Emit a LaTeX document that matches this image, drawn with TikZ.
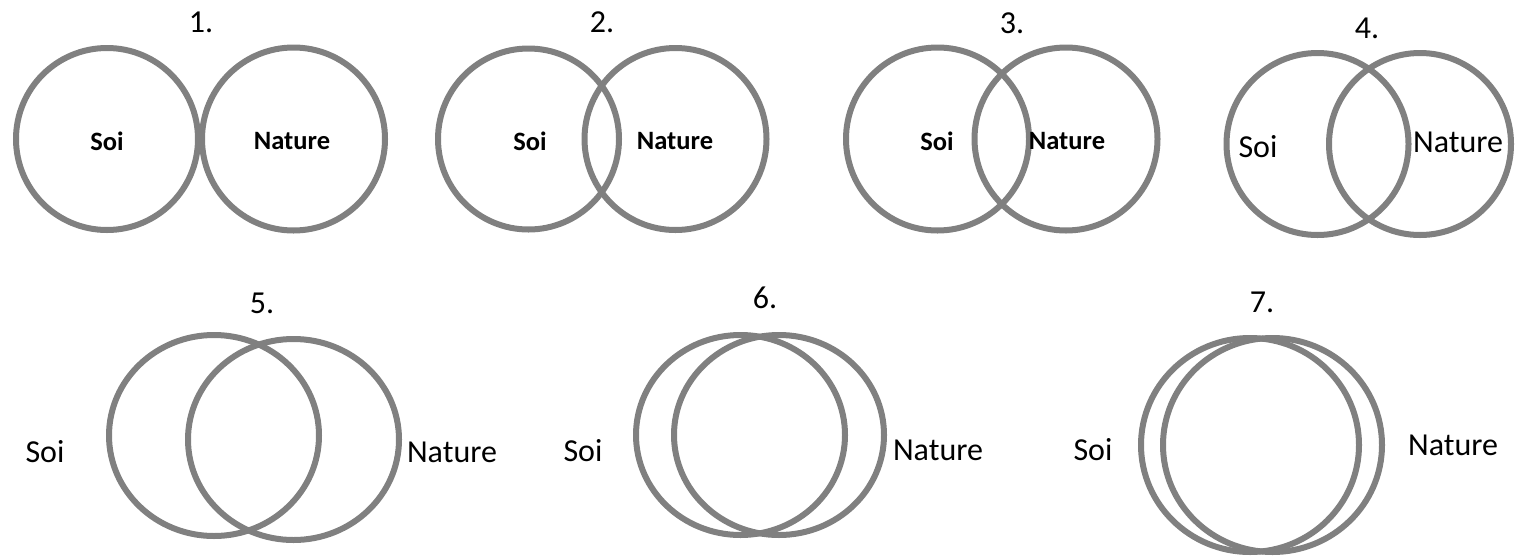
\documentclass[tikz,border=0pt]{standalone}
\usepackage{fontspec}
\setmainfont{Carlito}
\begin{document}
\begin{tikzpicture}[x=1pt,y=-1pt,
  ring/.style={draw=ringgray,line width=6pt},
  boldlab/.style={inner sep=0pt,font=\fontsize{26.5}{30}\selectfont\bfseries},
  reglab/.style={inner sep=0pt,font=\fontsize{32}{38}\selectfont},
  numlab/.style={inner sep=0pt,font=\fontsize{32}{38}\selectfont}]
\definecolor{ringgray}{RGB}{128,128,128}
\useasboundingbox[fill=white] (0,0) rectangle (1517,555);
% 1
\draw[ring] (107,139) circle[radius=91pt];
\draw[ring] (293.5,139) circle[radius=91.5pt];
\node[numlab] (n1) at (201,22) {1.};
\node[boldlab] (s1) at (107,141) {Soi};
\node[boldlab] (a1) at (292,141) {Nature};
% 2
\draw[ring] (528.5,139) circle[radius=90.5pt];
\draw[ring] (675.5,139) circle[radius=91pt];
\node[numlab] (n2) at (602,22) {2.};
\node[boldlab] (s2) at (530,141) {Soi};
\node[boldlab] (a2) at (675,141) {Nature};
% 3
\draw[ring] (937.5,139) circle[radius=91.5pt];
\draw[ring] (1066,139) circle[radius=91.5pt];
\node[numlab] (n3) at (1012,23) {3.};
\node[boldlab] (s3) at (937,141) {Soi};
\node[boldlab] (a3) at (1067,141) {Nature};
% 4
\draw[ring] (1317.5,144) circle[radius=91pt];
\draw[ring] (1420,144) circle[radius=91pt];
\node[numlab] (n4) at (1367,28) {4.};
\node[reglab] (s4) at (1258,147) {Soi};
\node[reglab] (a4) at (1458,142) {Nature};
% 5
\draw[ring] (214,435.5) ellipse[x radius=105pt,y radius=100.5pt];
\draw[ring] (293.5,439.5) ellipse[x radius=105.5pt,y radius=100.5pt];
\node[numlab] (n5) at (262,303) {5.};
\node[reglab] (s5) at (45,452) {Soi};
\node[reglab] (a5) at (452,452) {Nature};
% 6
\draw[ring] (740.5,435) ellipse[x radius=104.5pt,y radius=100pt];
\draw[ring] (779,435) ellipse[x radius=105pt,y radius=100pt];
\node[numlab] (n6) at (765,298) {6.};
\node[reglab] (s6) at (583,451) {Soi};
\node[reglab] (a6) at (938,450) {Nature};
% 7
\draw[ring] (1250,445) ellipse[x radius=109pt,y radius=107pt];
\draw[ring] (1272.5,445) ellipse[x radius=109.5pt,y radius=107pt];
\node[numlab] (n7) at (1262,302) {7.};
\node[reglab] (s7) at (1093,450) {Soi};
\node[reglab] (a7) at (1453,445) {Nature};
\end{tikzpicture}
\end{document}
